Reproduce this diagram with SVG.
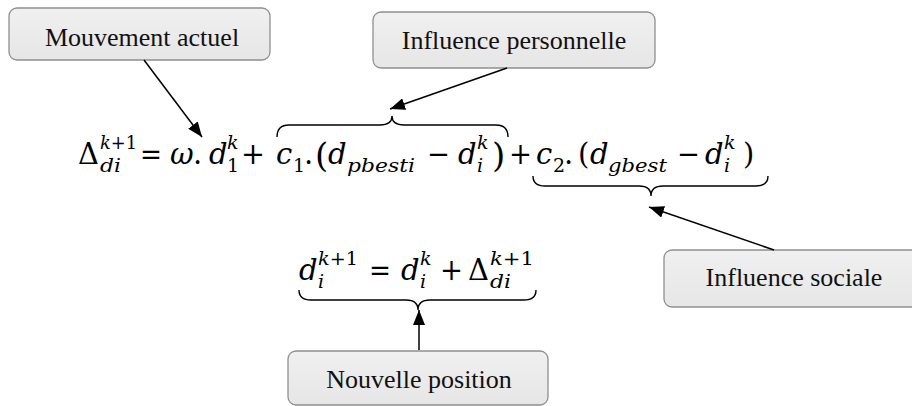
<svg xmlns="http://www.w3.org/2000/svg" width="912" height="406" viewBox="0 0 912 406">
  <defs>
    <linearGradient id="boxFill" x1="0" y1="0" x2="0" y2="1">
      <stop offset="0" stop-color="#f0f0f0"/>
      <stop offset="1" stop-color="#e6e6e6"/>
    </linearGradient>
    <marker id="arrowHead" markerWidth="15" markerHeight="12" refX="15" refY="6" orient="auto" markerUnits="userSpaceOnUse">
      <path d="M0,0 L15,6 L0,12 Z" fill="#000"/>
    </marker>
  </defs>
  <style>
    .box { fill: url(#boxFill); stroke: #8f8f8f; stroke-width: 1.3; }
    .label { font-family: "Liberation Serif", "Times New Roman", serif; font-size: 26px; fill: #111; text-anchor: middle; }
    .math { font-family: "DejaVu Serif", "Liberation Serif", serif; font-size: 29px; fill: #000; }
    .it { font-style: italic; }
    .scr { font-size: 19px; }
    .paren { font-size: 34px; }
    .brace { fill: none; stroke: #000; stroke-width: 1.4; }
    .conn { stroke: #000; stroke-width: 1.5; fill: none; marker-end: url(#arrowHead); }
  </style>

  <rect width="912" height="406" fill="#fff"/>

  <!-- velocity update -->
  <g id="eq-velocity" class="math">
    <text x="78" y="164">Δ</text>
    <text class="it scr" x="100" y="172" textLength="21" lengthAdjust="spacingAndGlyphs">di</text>
    <text class="scr" x="100" y="149" textLength="37" lengthAdjust="spacingAndGlyphs"><tspan class="it">k</tspan>+1</text>
    <text x="140" y="164" textLength="22" lengthAdjust="spacingAndGlyphs">=</text>
    <text class="it" x="170" y="164">ω</text>
    <text x="193" y="164">.</text>
    <text class="it" x="209" y="164">d</text>
    <text class="scr" x="227" y="172">1</text>
    <text class="it scr" x="227" y="149">k</text>
    <text x="241" y="164" textLength="24" lengthAdjust="spacingAndGlyphs">+</text>
    <text class="it" x="276" y="164">c</text>
    <text class="scr" x="293" y="172">1</text>
    <text x="304" y="164">.</text>
    <text class="paren" x="315" y="167">(</text>
    <text class="it" x="328" y="164">d</text>
    <text class="it scr" x="347" y="172" textLength="68" lengthAdjust="spacingAndGlyphs">pbesti</text>
    <text x="427" y="164" textLength="23" lengthAdjust="spacingAndGlyphs">−</text>
    <text class="it" x="458" y="164">d</text>
    <text class="it scr" x="477" y="172">i</text>
    <text class="it scr" x="477" y="149">k</text>
    <text class="paren" x="492" y="167">)</text>
    <text x="509" y="164" textLength="23" lengthAdjust="spacingAndGlyphs">+</text>
    <text class="it" x="536" y="164">c</text>
    <text class="scr" x="553" y="172">2</text>
    <text x="564" y="164">.</text>
    <text x="578" y="164">(</text>
    <text class="it" x="590" y="164">d</text>
    <text class="it scr" x="608" y="172" textLength="59" lengthAdjust="spacingAndGlyphs">gbest</text>
    <text x="677" y="164" textLength="23" lengthAdjust="spacingAndGlyphs">−</text>
    <text class="it" x="705" y="164">d</text>
    <text class="it scr" x="724" y="172">i</text>
    <text class="it scr" x="724" y="149">k</text>
    <text x="743" y="164">)</text>
  </g>

  <!-- position update -->
  <g id="eq-position" class="math">
    <text class="it" x="299" y="280">d</text>
    <text class="it scr" x="318" y="288">i</text>
    <text class="scr" x="318" y="265" textLength="40" lengthAdjust="spacingAndGlyphs"><tspan class="it">k</tspan>+1</text>
    <text x="369" y="280" textLength="22" lengthAdjust="spacingAndGlyphs">=</text>
    <text class="it" x="401" y="280">d</text>
    <text class="it scr" x="420" y="288">i</text>
    <text class="it scr" x="420" y="265">k</text>
    <text x="440" y="280" textLength="23" lengthAdjust="spacingAndGlyphs">+</text>
    <text x="468" y="280">Δ</text>
    <text class="it scr" x="490" y="288" textLength="21" lengthAdjust="spacingAndGlyphs">di</text>
    <text class="scr" x="490" y="265" textLength="44" lengthAdjust="spacingAndGlyphs"><tspan class="it">k</tspan>+1</text>
  </g>

  <!-- braces -->
  <g id="braces">
    <path id="brace-personal" class="brace" d="M277,137 Q277,125 289,125 L380,125 Q392,125 392,116 Q392,125 404,125 L496,125 Q508,125 508,137"/>
    <path id="brace-social" class="brace" d="M533,176 Q533,186 545,186 L639,186 Q651,186 651,196 Q651,186 663,186 L756,186 Q768,186 768,176"/>
    <path id="brace-position" class="brace" d="M299,290 Q299,300 311,300 L406,300 Q418,300 418,310 Q418,300 430,300 L524,300 Q536,300 536,290"/>
  </g>

  <!-- label nodes -->
  <g id="node-mouvement">
    <rect class="box" x="9" y="8" width="261" height="52" rx="8"/>
    <text class="label" x="142" y="46">Mouvement actuel</text>
  </g>
  <g id="node-personnelle">
    <rect class="box" x="373" y="12" width="282" height="56" rx="8"/>
    <text class="label" x="514" y="49">Influence personnelle</text>
  </g>
  <g id="node-sociale">
    <rect class="box" x="664" y="250" width="262" height="57" rx="8"/>
    <text class="label" x="794" y="286">Influence sociale</text>
  </g>
  <g id="node-position">
    <rect class="box" x="288" y="351" width="260" height="54" rx="8"/>
    <text class="label" x="419" y="388">Nouvelle position</text>
  </g>

  <!-- connectors -->
  <g id="connectors">
    <line class="conn" x1="144" y1="60" x2="202" y2="137"/>
    <line class="conn" x1="507" y1="68" x2="390" y2="109"/>
    <line class="conn" x1="774" y1="250" x2="649" y2="207"/>
    <line class="conn" x1="419" y1="350" x2="419" y2="310"/>
  </g>
</svg>
